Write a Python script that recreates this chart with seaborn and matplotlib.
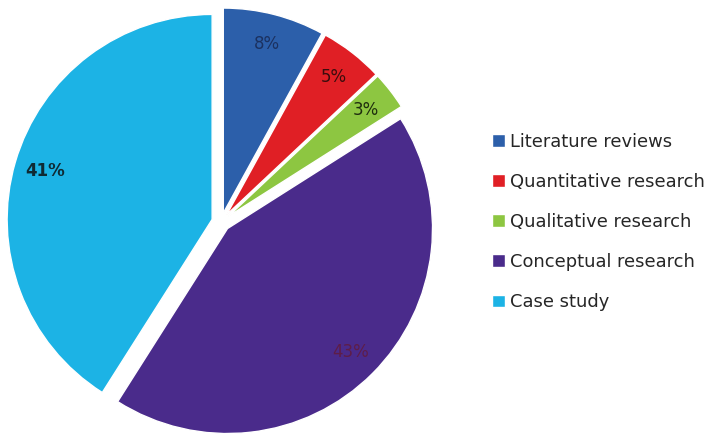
import matplotlib
matplotlib.use("Agg")
import matplotlib.pyplot as plt
import seaborn as sns

# Share of research methods across the reviewed studies
categories = ["Literature reviews", "Quantitative research", "Qualitative research",
              "Conceptual research", "Case study"]
shares = [8, 5, 3, 43, 41]
colors = ["#2c5faa", "#e01f25", "#8dc641", "#4a2b8b", "#1cb3e5"]
label_colors = ["#1b3160", "#3a0d0d", "#1e2d0e", "#5e1d48", "#0f2a33"]

sns.set_theme(style="white")
plt.rcParams["font.family"] = ["DejaVu Sans"]

W, H = 710, 434
fig = plt.figure(figsize=(W / 100, H / 100), dpi=100)
fig.patch.set_facecolor("white")

# pie radius ~205 px, centred near (221, 223) from the top-left corner
R = 205.0
cx, cy = 221.0, H - 222.0
half = 1.1 * R
ax = fig.add_axes([(cx - half) / W, (cy - half) / H, 2 * half / W, 2 * half / H])

wedges, texts, autotexts = ax.pie(
    shares,
    colors=colors,
    startangle=90,
    counterclock=False,
    explode=[0.045] * len(shares),
    autopct="%d%%",
    pctdistance=0.85,
    wedgeprops=dict(edgecolor="white", linewidth=1.0),
    textprops=dict(fontsize=12),
)
for t, c in zip(autotexts, label_colors):
    t.set_color(c)
autotexts[-1].set_fontweight("bold")
ax.set_xlim(-1.1, 1.1)
ax.set_ylim(-1.1, 1.1)
ax.set_aspect("equal")
ax.axis("off")

leg = fig.legend(
    wedges, categories,
    loc="upper left",
    bbox_to_anchor=(492 / W, 1 - 133 / H),
    frameon=False,
    fontsize=12.9,
    handlelength=0.72,
    handleheight=0.72,
    handletextpad=0.3,
    labelspacing=1.23,
    borderpad=0,
    borderaxespad=0,
)
for txt in leg.get_texts():
    txt.set_color("#262626")

fig.savefig("out.png", dpi=100, facecolor="white")
